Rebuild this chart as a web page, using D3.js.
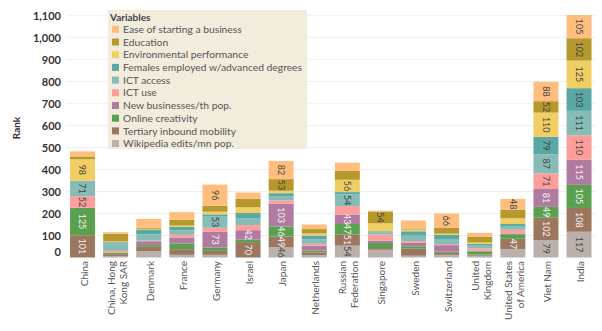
<!DOCTYPE html>
<html><head><meta charset="utf-8">
<script src="https://cdn.jsdelivr.net/npm/d3@7"></script>
<style>body{margin:0;background:#fff;font-family:Lato,"Open Sans",sans-serif}</style>
</head><body><svg id="c" width="602" height="331"></svg>
<script>
const countries = ["China","China, Hong Kong SAR","Denmark","France","Germany","Israel","Japan","Netherlands","Russian Federation","Singapore","Sweden","Switzerland","United Kingdom","United States of America","Viet Nam","India"];
const countryLines = [["China"],["China, Hong","Kong SAR"],["Denmark"],["France"],["Germany"],["Israel"],["Japan"],["Netherlands"],["Russian","Federation"],["Singapore"],["Sweden"],["Switzerland"],["United","Kingdom"],["United States","of America"],["Viet Nam"],["India"]];
// legend order (top to bottom); stacked bottom-up in reverse order
const variables = ["Ease of starting a business","Education","Environmental performance","Females employed w/advanced degrees","ICT access","ICT use","New businesses/th pop.","Online creativity","Tertiary inbound mobility","Wikipedia edits/mn pop."];
const colors = ["#FFBE7D","#B6992D","#F1CE63","#59A8A4","#86BCB6","#FF9D9A","#B07AA1","#59A14F","#9D7660","#BAB0AC"];
const easeStarting   = [23, 7,40,35,96,27,82,21,38, 4,36,66,17,48, 88,105];
const education      = [12,35, 5,26,27,40,53,20,40,54, 5,26,27,40, 52,102];
const environmental  = [98, 3, 3, 6,12,26,11, 9,56,36, 8, 5, 6,26,110,125];
const femalesAdv     = [ 0, 0,22,16, 8,25,15,18,10, 5,20,22, 8,12, 79,103];
const ictAccess      = [71,40,28,20,53,30,18,20,54,10,25,20,12,14, 87,111];
const ictUse         = [52, 9, 3,12,17,23,15, 8,38,27, 8, 5,11,17, 71,110];
const newBusinesses  = [ 0, 0,17,27,73,42,103,23,43,11,15,29, 3, 3, 81,115];
const onlineCreat    = [125,6, 8,26,15,12,46, 8,47,23,11, 6,15,21, 49,105];
const tertiaryMob    = [101,10,20,26,18,70,49,12,51, 8,32, 9, 5,47,102,108];
const wikipediaEdits = [ 0, 5,29,12,12, 0,46,11,54,35, 8,12, 8,38, 79,117];
const yTicks = [0,100,200,300,400,500,600,700,800,900,1000,1100];

const series = [easeStarting,education,environmental,femalesAdv,ictAccess,ictUse,newBusinesses,onlineCreat,tertiaryMob,wikipediaEdits];
const lightText = new Set(["New businesses/th pop.","Online creativity","Tertiary inbound mobility"]);

const svg = d3.select("#c");
const x = d3.scaleBand().domain(countries).range([66,595.6]).paddingInner(0.245).paddingOuter(0.1225);
const y = d3.scaleLinear().domain([0,1100]).range([257.5,15.3]);
const color = d3.scaleOrdinal().domain(variables).range(colors);

// gridlines
svg.append("g").selectAll("line").data(yTicks.filter(d=>d>0)).join("line")
  .attr("x1",66).attr("x2",596).attr("y1",d=>y(d)).attr("y2",d=>y(d))
  .attr("stroke","#efefef").attr("stroke-width",1);

// y labels
svg.append("g").selectAll("text").data(yTicks).join("text")
  .attr("x",61).attr("y",d=>Math.min(y(d)+1,252)).attr("dy","0.35em")
  .attr("text-anchor","end").attr("font-size",11).attr("font-weight",700).attr("fill","#333")
  .text(d=>d3.format(",")(d));
svg.append("text").attr("transform","translate(20,128) rotate(-90)").attr("text-anchor","middle")
  .attr("font-size",10).attr("font-weight",700).attr("fill","#333").text("Rank");

// stack
const rows = countries.map((c,i)=>{const o={country:c}; variables.forEach((v,j)=>o[v]=series[j][i]); return o;});
const stackKeys = variables.slice().reverse();
const stacked = d3.stack().keys(stackKeys)(rows);

const g = svg.append("g");
stacked.forEach(layer=>{
  const key = layer.key;
  g.append("g").selectAll("rect").data(layer).join("rect")
    .attr("x",d=>x(d.data.country)).attr("width",x.bandwidth())
    .attr("y",d=>y(d[1])).attr("height",d=>Math.max(0,y(d[0])-y(d[1])))
    .attr("fill",color(key));
  g.append("g").selectAll("text").data(layer.filter(d=>d[1]-d[0]>=42)).join("text")
    .attr("transform",d=>`translate(${x(d.data.country)+x.bandwidth()/2},${(y(d[0])+y(d[1]))/2}) rotate(90)`)
    .attr("text-anchor","middle").attr("dy","0.35em").attr("font-size",9)
    .attr("fill",lightText.has(key)?"#f4f4f4":"#444")
    .text(d=>d[1]-d[0]);
});

// x labels
const xl = svg.append("g");
countries.forEach((c,i)=>{
  const lines = countryLines[i];
  const cx = x(c)+x.bandwidth()/2+1.5;
  lines.forEach((t,k)=>{
    const off = (k-(lines.length-1)/2)*12;
    xl.append("text").attr("transform",`translate(${cx+off},261) rotate(-90)`)
      .attr("text-anchor","end").attr("dy","0.35em").attr("font-size",10).attr("fill","#555").text(t);
  });
});

// legend
const lg = svg.append("g");
lg.append("rect").attr("x",108).attr("y",10).attr("width",199).attr("height",139).attr("fill","#F2ECDC");
lg.append("text").attr("x",110).attr("y",17).attr("dy","0.35em").attr("font-size",10).attr("font-weight",700).attr("fill","#444").text("Variables");
variables.forEach((v,i)=>{
  const yy = 29.3+i*12.7;
  lg.append("rect").attr("x",112).attr("y",yy-3.5).attr("width",7).attr("height",7).attr("fill",color(v));
  lg.append("text").attr("x",123).attr("y",yy).attr("dy","0.35em").attr("font-size",10.3).attr("fill","#555").text(v);
});
</script></body></html>
